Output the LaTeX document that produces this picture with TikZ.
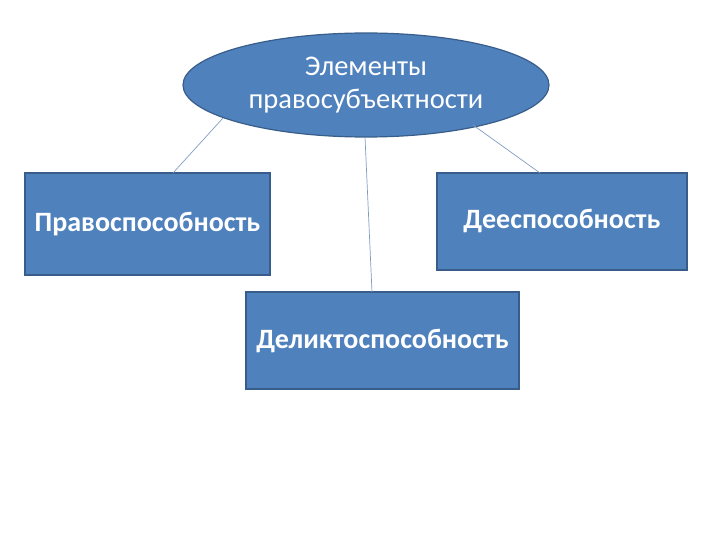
\documentclass[tikz,border=0pt]{standalone}
\usepackage{fontspec}
\setmainfont{Carlito}
\usetikzlibrary{shapes.geometric}
\definecolor{boxfill}{HTML}{4F81BD}
\definecolor{boxline}{HTML}{385D8A}
\definecolor{conn}{HTML}{7F9CC0}
\begin{document}
\begin{tikzpicture}[x=1pt,y=-1pt,
  blob/.style={ellipse, fill=boxfill, draw=boxline, line width=1.2pt, minimum width=366pt, minimum height=104pt, inner sep=0pt, text=white, align=center, font=\fontsize{28.5}{33}\selectfont},
  rbox/.style={rectangle, fill=boxfill, draw=boxline, line width=1.2pt, inner sep=0pt, text=white, font=\fontsize{28}{32}\selectfont\bfseries},
  link/.style={draw=conn, line width=0.7pt}]
\useasboundingbox (0,0) rectangle (720,540);
\node[blob] (top) at (366,85) {Элементы\\правосубъектности};
\node[rbox, minimum width=245pt, minimum height=102pt] (left) at (147.5,224) {Правоспособность};
\node[rbox, minimum width=250pt, minimum height=97pt] (right) at (562,221.5) {Дееспособность};
\node[rbox, minimum width=273pt, minimum height=97pt] (mid) at (382.5,340.5) {\raisebox{-2pt}{Деликтоспособность}};
\coordinate (l1) at (223,118);
\coordinate (l2) at (173,173);
\coordinate (r1) at (473,125);
\coordinate (r2) at (540,173);
\coordinate (m1) at (365,137);
\coordinate (m2) at (372,292);
\draw[link] (l1) -- (l2);
\draw[link] (r1) -- (r2);
\draw[link] (m1) -- (m2);
\end{tikzpicture}
\end{document}
